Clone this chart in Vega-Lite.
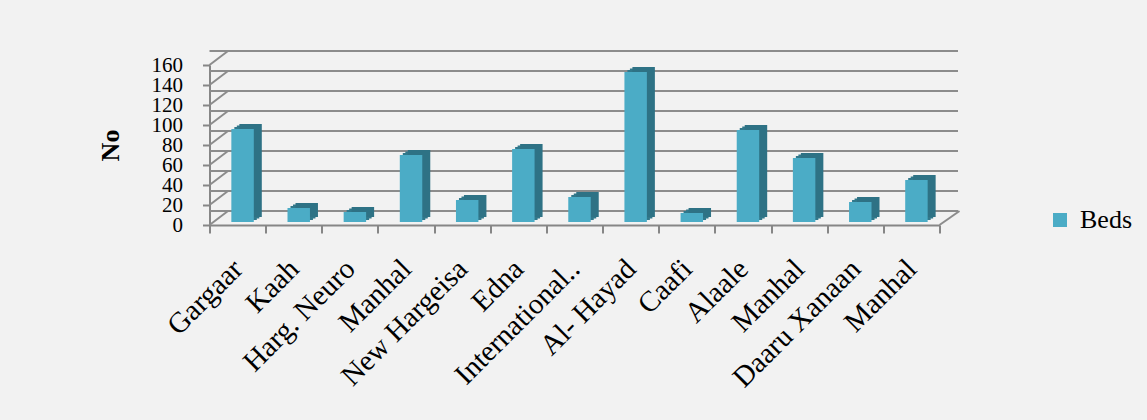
{
  "$schema": "https://vega.github.io/schema/vega-lite/v6.json",
  "width": 730,
  "height": 160,
  "autosize": {"type": "none"},
  "padding": {"left": 209.5, "top": 65, "right": 207.5, "bottom": 195},
  "background": "#f2f2f2",
  "config": {
    "font": "Liberation Serif",
    "view": {"stroke": null},
    "axisX": {
      "domainColor": "#868686",
      "domainWidth": 2,
      "tickColor": "#868686",
      "tickWidth": 2,
      "tickSize": 8,
      "tickBand": "extent",
      "labelAngle": -45,
      "labelAlign": "right",
      "labelBaseline": "middle",
      "labelFontSize": 29,
      "labelColor": "#000000",
      "labelPadding": 31,
      "labelOffset": 0,
      "labelOverlap": false,
      "labelLimit": 400,
      "grid": false
    },
    "axisY": {
      "titleFontSize": 26,
      "titleFontWeight": "bold",
      "titleColor": "#000000",
      "titlePadding": 28,
      "tickCount": 8,
      "labelFontSize": 21,
      "labelColor": "#000000",
      "labelPadding": 20,
      "labelFlush": false,
      "labelOverlap": false,
      "tickSize": 7,
      "tickColor": "#868686",
      "tickWidth": 2,
      "domainColor": "#868686",
      "domainWidth": 2,
      "grid": false
    }
  },
  "datasets": {
    "beds": [
      {"key": "Gargaar", "beds": 93},
      {"key": "Kaah", "beds": 14},
      {"key": "Harg. Neuro", "beds": 10},
      {"key": "Manhal#1", "beds": 67},
      {"key": "New Hargeisa", "beds": 22},
      {"key": "Edna", "beds": 73},
      {"key": "International..", "beds": 25},
      {"key": "Al- Hayad", "beds": 150},
      {"key": "Caafi", "beds": 9},
      {"key": "Alaale", "beds": 92},
      {"key": "Manhal#2", "beds": 64},
      {"key": "Daaru Xanaan", "beds": 20},
      {"key": "Manhal#3", "beds": 42}
    ],
    "ticks": [
      {"t": 0}, {"t": 20}, {"t": 40}, {"t": 60}, {"t": 80},
      {"t": 100}, {"t": 120}, {"t": 140}, {"t": 160}
    ],
    "floor": [{"t": 0}]
  },
  "layer": [
    {
      "data": {"name": "ticks"},
      "mark": {"type": "rule", "color": "#8c8c8c", "strokeWidth": 2, "x2Offset": -9.6, "y2Offset": -14},
      "encoding": {
        "x": {"datum": "Gargaar", "bandPosition": 0, "title": null},
        "x2": {"datum": "Gargaar"},
        "y": {"field": "t", "type": "quantitative", "title": "No"},
        "y2": {"field": "t"}
      }
    },
    {
      "data": {"name": "ticks"},
      "mark": {"type": "rule", "color": "#8c8c8c", "strokeWidth": 2, "xOffset": 18.5, "x2Offset": 18.5, "yOffset": -14, "y2Offset": -14},
      "encoding": {
        "y": {"field": "t", "type": "quantitative", "title": "No"}
      }
    },
    {
      "data": {"name": "floor"},
      "mark": {"type": "rule", "color": "#8c8c8c", "strokeWidth": 2, "x2Offset": 48.1, "y2Offset": -14},
      "encoding": {
        "x": {"datum": "Manhal#3", "bandPosition": 1, "title": null},
        "x2": {"datum": "Manhal#3"},
        "y": {"field": "t", "type": "quantitative", "title": "No"},
        "y2": {"field": "t"}
      }
    },
    {
      "data": {"name": "beds"},
      "mark": {"type": "bar", "color": "#31788b", "width": {"band": 0.4}, "xOffset": 8, "yOffset": -5, "y2Offset": -5},
      "encoding": {
        "x": {"field": "key", "type": "nominal", "title": null},
        "y": {"field": "beds", "type": "quantitative", "title": "No"}
      }
    },
    {
      "data": {"name": "beds"},
      "mark": {"type": "bar", "color": "#31788b", "width": {"band": 0.4}, "xOffset": 10.5, "yOffset": -6.5, "y2Offset": -6.5},
      "encoding": {
        "x": {"field": "key", "type": "nominal", "title": null},
        "y": {"field": "beds", "type": "quantitative", "title": "No"}
      }
    },
    {
      "data": {"name": "beds"},
      "mark": {"type": "bar", "color": "#2e7285", "width": {"band": 0.4}, "xOffset": 13, "yOffset": -8, "y2Offset": -8},
      "encoding": {
        "x": {"field": "key", "type": "nominal", "title": null},
        "y": {"field": "beds", "type": "quantitative", "title": "No"}
      }
    },
    {
      "data": {"name": "beds"},
      "mark": {"type": "bar", "width": {"band": 0.4}, "xOffset": 5, "yOffset": -3, "y2Offset": -3},
      "encoding": {
        "x": {
          "field": "key",
          "type": "nominal",
          "title": null,
          "scale": {
            "domain": ["Gargaar", "Kaah", "Harg. Neuro", "Manhal#1", "New Hargeisa", "Edna", "International..", "Al- Hayad", "Caafi", "Alaale", "Manhal#2", "Daaru Xanaan", "Manhal#3"],
            "paddingInner": 0,
            "paddingOuter": 0
          },
          "axis": {
            "labelExpr": "datum.value ? split(datum.value, '#')[0] : ''"
          }
        },
        "y": {
          "field": "beds",
          "type": "quantitative",
          "title": "No",
          "scale": {"domain": [0, 160], "nice": false}
        },
        "color": {
          "datum": "Beds",
          "scale": {"range": ["#4bacc6"]},
          "legend": {
            "title": null,
            "orient": "none",
            "legendX": 837.5,
            "legendY": 142,
            "symbolType": "square",
            "symbolSize": 196,
            "symbolStrokeWidth": 0,
            "labelFontSize": 26,
            "labelColor": "#000000",
            "labelOffset": 7,
            "padding": 0
          }
        }
      }
    }
  ]
}
